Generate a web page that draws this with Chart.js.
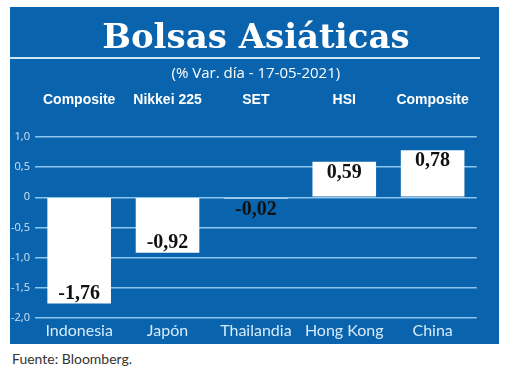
<!DOCTYPE html>
<html>
<head>
<meta charset="utf-8">
<script src="https://cdn.jsdelivr.net/npm/chart.js@4"></script>
<style>
  body { margin: 0; background: #fff; width: 520px; height: 372px; position: relative; overflow: hidden; }
  #panel { position: absolute; left: 10px; top: 7px; width: 489px; height: 337px; background: #0a63ad; }
  #raya { position: absolute; left: 0; top: 50px; width: 470px; height: 2px; background: #cfe6f7; }
  canvas { position: absolute; left: 0; top: 0; }
  #fuente { position: absolute; left: 12px; top: 350px; font: 14px Lato, "Open Sans", sans-serif; color: #333; }
</style>
</head>
<body>
<div id="panel">
  <canvas id="bolsas" width="489" height="337"></canvas>
  <div id="raya"></div>
</div>
<div id="fuente">Fuente: Bloomberg.</div>
<script>
// DATA: variación diaria de las bolsas asiáticas, 17-05-2021
var paises = ['Indonesia', 'Japón', 'Thailandia', 'Hong Kong', 'China'];
var indices = ['Composite', 'Nikkei 225', 'SET', 'HSI', 'Composite'];
var variacion = [-1.76, -0.92, -0.02, 0.59, 0.78];
var yTicks = ['-2,0', '-1,5', '-1,0', '-0,5', '0', '0,5', '1,0'];

function formato(v) {
  return v.toFixed(2).replace('.', ',');
}

// etiquetas de valor en negro sobre/bajo cada barra
var valueLabels = {
  id: 'valueLabels',
  afterDatasetsDraw: function(chart) {
    var ctx = chart.ctx;
    var meta = chart.getDatasetMeta(0);
    ctx.save();
    ctx.font = 'bold 20px "Liberation Serif", serif';
    ctx.fillStyle = '#111';
    ctx.textAlign = 'center';
    ctx.textBaseline = 'middle';
    meta.data.forEach(function(bar, i) {
      var v = variacion[i];
      var h = Math.abs(bar.base - bar.y);
      var y;
      if (v >= 0) y = bar.y + 11;
      else if (h < 24) y = bar.base + 12;
      else y = bar.y - 10;
      ctx.fillText(formato(v), bar.x, y);
    });
    ctx.restore();
  }
};

var ctx = document.getElementById('bolsas').getContext('2d');
var chart = new Chart(ctx, {
  type: 'bar',
  data: {
    labels: paises,
    datasets: [{
      data: variacion,
      backgroundColor: '#ffffff',
      borderWidth: 0,
      barPercentage: 0.72,
      categoryPercentage: 1
    }]
  },
  plugins: [valueLabels],
  options: {
    responsive: false,
    animation: false,
    layout: { padding: { left: 0, right: 19, top: 0, bottom: 0 } },
    scales: {
      x: {
        position: 'bottom',
        grid: { display: false, drawTicks: false },
        border: { display: false },
        afterFit: function(scale) { scale.height = 26; },
        ticks: {
          color: '#d6ebfa',
          padding: 3,
          maxRotation: 0,
          minRotation: 0,
          autoSkip: false,
          font: { family: 'Lato, "Open Sans", sans-serif', size: 16 }
        }
      },
      x2: {
        type: 'category',
        position: 'top',
        labels: indices,
        grid: { display: false, drawTicks: false },
        border: { display: false },
        afterFit: function(scale) { scale.height = 55; },
        ticks: {
          color: '#ffffff',
          padding: 28,
          maxRotation: 0,
          minRotation: 0,
          autoSkip: false,
          font: { family: '"Liberation Sans Narrow", "Liberation Sans", sans-serif', size: 14, weight: 'bold' }
        }
      },
      y: {
        min: -2,
        max: 1,
        grid: { color: '#8cc6ee', lineWidth: 1.5, drawTicks: false },
        border: { display: false },
        afterFit: function(scale) { scale.width = 25; },
        ticks: {
          stepSize: 0.5,
          color: '#cfe3f3',
          padding: 5,
          font: { family: '"Open Sans", sans-serif', size: 11 },
          callback: function(value, index) { return yTicks[index]; }
        }
      }
    },
    plugins: {
      legend: { display: false },
      tooltip: { enabled: false },
      title: {
        display: true,
        fullSize: false,
        text: 'Bolsas Asiáticas',
        color: '#ffffff',
        padding: { top: 13, bottom: 0 },
        font: { family: '"DejaVu Serif", serif', size: 34, weight: 'bold', lineHeight: 1.1 }
      },
      subtitle: {
        display: true,
        fullSize: false,
        text: '(% Var. día - 17-05-2021)',
        color: '#ffffff',
        padding: { top: 8, bottom: 0 },
        font: { family: '"Open Sans", sans-serif', size: 15, lineHeight: 1.1 }
      }
    }
  }
});
</script>
</body>
</html>
